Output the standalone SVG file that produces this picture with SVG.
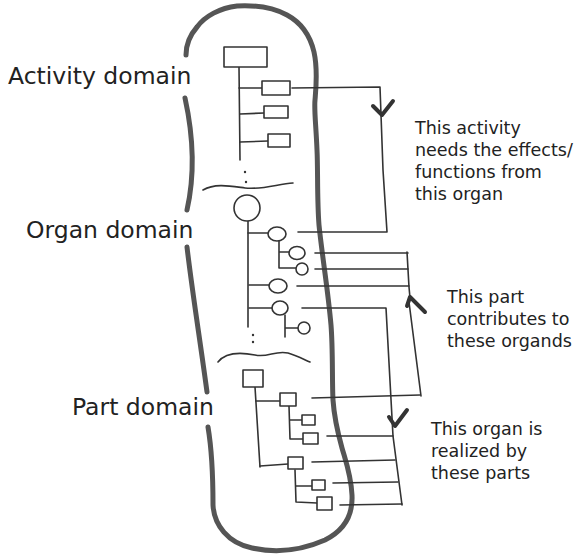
<svg xmlns="http://www.w3.org/2000/svg" width="584" height="557" viewBox="0 0 584 557">
  <style>
    .blob { fill: none; stroke: #555; stroke-width: 5; stroke-linecap: round; stroke-linejoin: round; }
    .ink { fill: none; stroke: #333; stroke-width: 1.6; stroke-linecap: round; stroke-linejoin: round; }
    .box { fill: #fff; stroke: #333; stroke-width: 1.6; stroke-linejoin: round; }
    .dot { fill: #333; }
    .head { fill: none; stroke: #333; stroke-width: 4; stroke-linecap: round; stroke-linejoin: round; }
    .domain { font-family: "DejaVu Sans", Verdana, sans-serif; font-size: 23.5px; fill: #222; }
    .note { font-family: "DejaVu Sans", Verdana, sans-serif; font-size: 17.5px; fill: #222; }
  </style>
  <rect width="584" height="557" fill="#fff"/>

  <!-- outline of the system, broken where the domain labels sit -->
  <g id="system-outline">
    <path class="blob" d="M208,427 C211,445 213,475 213,505 C214,525 228,543 252,548 C275,553 300,551 325,540 C345,530 353,515 352,495 C351,475 346,462 342,448 C337,430 334,415 333,400 C332,380 333,350 331,325 C328,290 322,255 319,225 C317,200 318,170 317,150 C316,125 314,110 315,100 C316,88 318,70 314,52 C310,35 300,22 287,15 C272,7 255,5 237,6 C220,8 205,16 197,27 C190,35 186,45 186,55"/>
    <path class="blob" d="M185,98 C192,130 196,170 187,210"/>
    <path class="blob" d="M187,247 C192,290 200,340 207,392"/>
  </g>

  <!-- domain labels -->
  <g id="labels">
    <text class="domain" x="8" y="84">Activity domain</text>
    <text class="domain" x="26" y="238">Organ domain</text>
    <text class="domain" x="72" y="415">Part domain</text>
  </g>

  <!-- domain separators -->
  <g id="separators">
    <path class="ink" d="M203,190 C215,183 230,186 245,188 C262,190 278,184 293,183"/>
    <path class="ink" d="M218,362 C225,353 240,352 255,355 C268,358 275,350 288,353 C298,356 305,360 310,362"/>
  </g>

  <!-- connectors between the domains -->
  <g id="connectors">
    <path class="ink" d="M292,88 L380,87 L383,170 L387,232 L298,232"/>
    <path class="ink" d="M315,253 L408,253"/>
    <path class="ink" d="M315,269 L408,269"/>
    <path class="ink" d="M297,286 L409,286"/>
    <path class="ink" d="M407,252 L409,287 L410,298 M409,302 L421,396"/>
    <path class="ink" d="M312,398 L420,395"/>
    <path class="ink" d="M302,308 L386,308 L393,436 L402,505"/>
    <path class="ink" d="M327,436 L393,436"/>
    <path class="ink" d="M312,462 L395,460"/>
    <path class="ink" d="M333,483 L398,482"/>
    <path class="ink" d="M340,505 L402,504"/>
    <path class="head" d="M373,106 L382,115 L393,101"/>
    <path class="head" d="M407,306 L410,297 L425,312"/>
    <path class="head" d="M389,417 L395,426 L407,410"/>
  </g>

  <!-- activity tree -->
  <g id="activity-tree">
    <path class="ink" d="M239,67 L240,160"/>
    <path class="ink" d="M239,88 L262,88 M240,114 L264,113 M240,142 L268,141"/>
    <circle class="dot" cx="245" cy="172" r="1.2"/>
    <circle class="dot" cx="246" cy="182" r="1.2"/>
  </g>
  <g id="activity-root"><rect class="box" x="224" y="47" width="43" height="20"/></g>
  <g id="activity-1"><rect class="box" x="262" y="81" width="28" height="14"/></g>
  <g id="activity-2"><rect class="box" x="264" y="106" width="24" height="12"/></g>
  <g id="activity-3"><rect class="box" x="268" y="134" width="22" height="13"/></g>

  <!-- organ tree -->
  <g id="organ-tree">
    <path class="ink" d="M248,221 L248,327"/>
    <path class="ink" d="M248,233 L268,233 M249,285 L269,285 M249,308 L272,308"/>
    <path class="ink" d="M279,241 L279,268 M279,252 L290,252 M279,268 L296,268"/>
    <path class="ink" d="M285,315 L285,337 M285,328 L298,328"/>
    <circle class="dot" cx="253" cy="335" r="1.2"/>
    <circle class="dot" cx="253" cy="342" r="1.2"/>
  </g>
  <g id="organ-root"><circle class="box" cx="247" cy="208" r="13"/></g>
  <g id="organ-1"><ellipse class="box" cx="277" cy="234" rx="9" ry="7"/></g>
  <g id="organ-1-1"><ellipse class="box" cx="297" cy="253" rx="8" ry="6.5"/></g>
  <g id="organ-1-2"><circle class="box" cx="302" cy="269" r="6"/></g>
  <g id="organ-2"><ellipse class="box" cx="278" cy="286" rx="9" ry="7"/></g>
  <g id="organ-3"><ellipse class="box" cx="280" cy="308" rx="8" ry="7"/></g>
  <g id="organ-3-1"><circle class="box" cx="304" cy="328" r="6"/></g>

  <!-- part tree -->
  <g id="part-tree">
    <path class="ink" d="M255,387 L260,467"/>
    <path class="ink" d="M256,401 L280,401 M260,466 L288,464"/>
    <path class="ink" d="M289,406 L290,439 M290,420 L302,420 M290,439 L303,439"/>
    <path class="ink" d="M295,470 L296,502 M296,486 L312,486 M296,502 L317,503"/>
  </g>
  <g id="part-root"><rect class="box" x="243" y="370" width="20" height="17"/></g>
  <g id="part-1"><rect class="box" x="280" y="393" width="16" height="13"/></g>
  <g id="part-1-1"><rect class="box" x="302" y="415" width="13" height="10"/></g>
  <g id="part-1-2"><rect class="box" x="303" y="433" width="15" height="11"/></g>
  <g id="part-2"><rect class="box" x="288" y="457" width="15" height="12"/></g>
  <g id="part-2-1"><rect class="box" x="312" y="480" width="13" height="10"/></g>
  <g id="part-2-2"><rect class="box" x="317" y="497" width="15" height="13"/></g>

  <!-- notes -->
  <g id="notes">
    <text class="note" x="415" y="134">This activity</text>
    <text class="note" x="415" y="156">needs the effects/</text>
    <text class="note" x="415" y="178">functions from</text>
    <text class="note" x="415" y="200">this organ</text>
    <text class="note" x="447" y="303">This part</text>
    <text class="note" x="447" y="325">contributes to</text>
    <text class="note" x="447" y="347">these organds</text>
    <text class="note" x="431" y="435">This organ is</text>
    <text class="note" x="431" y="457">realized by</text>
    <text class="note" x="431" y="479">these parts</text>
  </g>
</svg>
